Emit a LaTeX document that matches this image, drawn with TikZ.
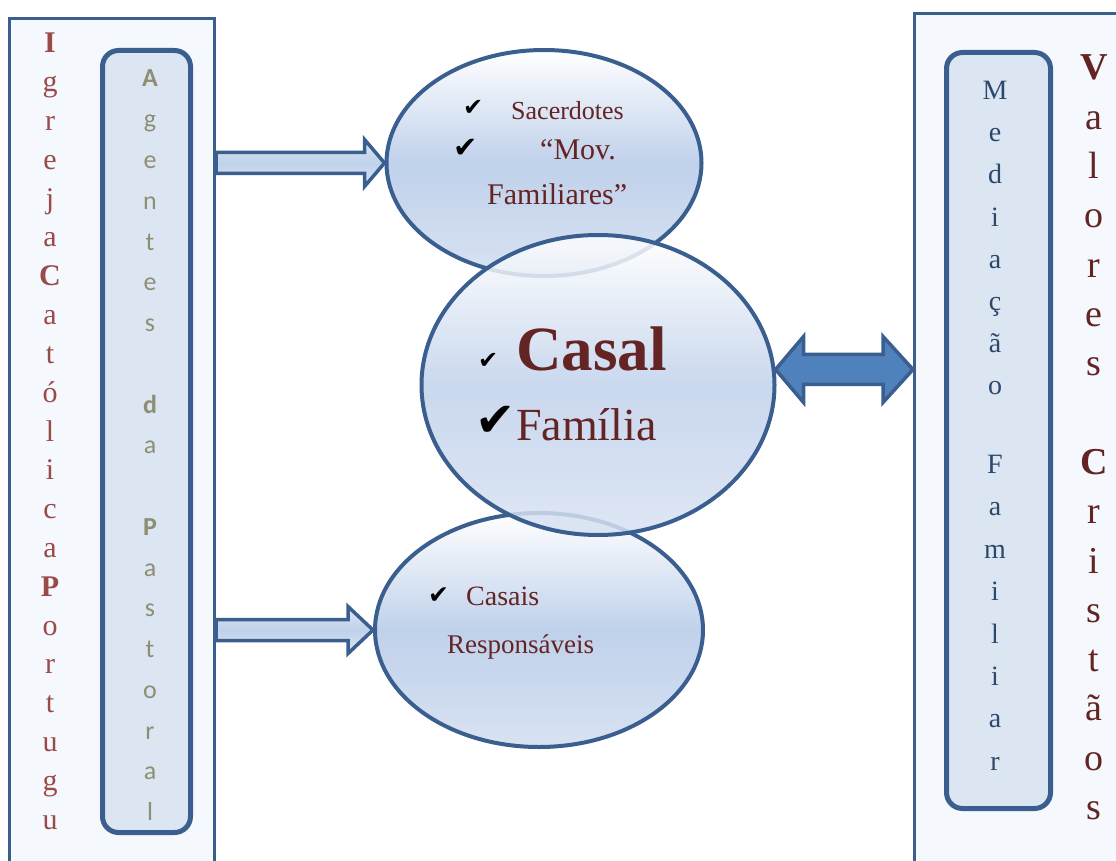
\documentclass[tikz,border=0pt]{standalone}
\usepackage{fontspec}
\setmainfont{Liberation Serif}
\newfontfamily\calibri{Carlito}
\newfontfamily\symb{DejaVu Sans}
\usetikzlibrary{calc,shapes.geometric}

\definecolor{frameblue}{RGB}{58,95,143}
\definecolor{paleblue}{RGB}{245,248,252}
\definecolor{boxblue}{RGB}{220,230,242}
\definecolor{bandblue}{RGB}{192,209,235}
\definecolor{lowblue}{RGB}{216,226,242}
\definecolor{arrowblue}{RGB}{79,129,189}
\definecolor{churchred}{RGB}{155,74,74}
\definecolor{agentgray}{RGB}{142,142,115}
\definecolor{medblue}{RGB}{44,72,108}
\definecolor{darkred}{RGB}{99,36,35}

\newcommand{\fsz}[1]{\fontsize{#1}{#1}\selectfont}

\begin{document}
\begin{tikzpicture}[x=1pt,y=-1pt,
	outerbox/.style={draw=frameblue, line width=3pt, fill=paleblue, anchor=north west, inner sep=0pt},
	innerbox/.style={draw=frameblue, line width=5pt, fill=boxblue, rounded corners=16pt, anchor=north west, inner sep=0pt},
	bubble/.style={ellipse, draw=frameblue, line width=4pt, inner sep=0pt,
		top color=white, bottom color=lowblue, middle color=bandblue},
	bubbletext/.style={text=darkred, anchor=base west, inner sep=0pt},
	tick/.style={anchor=base west, inner sep=0pt},
	letter/.style={anchor=base, inner sep=0pt},
	hollowarrow/.style={draw=frameblue, line width=3.5pt, top color=boxblue, bottom color=boxblue, middle color=bandblue},
	solidarrow/.style={draw=frameblue, line width=3.5pt, fill=arrowblue}
]

	\useasboundingbox (0,0) rectangle (1116,861);

	% ---- side boxes

	\node[outerbox, minimum width=205, minimum height=880] (church) at (8,17) {};
	\node[innerbox, minimum width=88, minimum height=782] (agents) at (100,48) {};

	\node[outerbox, minimum width=240, minimum height=880] (values) at (913,12) {};
	\node[innerbox, minimum width=104, minimum height=756] (mediation) at (944,50) {};

	% ---- bubbles

	\node[bubble, minimum width=315, minimum height=226] (top) at (544,163) {};
	\node[bubble, minimum width=328, minimum height=234] (bot) at (539,630) {};
	\node[bubble, minimum width=353, minimum height=300, fill opacity=0.85] (mid) at (598,385) {};

	% ---- arrows

	\coordinate (t1) at (top.west);
	\coordinate (s1) at (church.east |- t1);
	\draw[hollowarrow] ($(s1)+(0,-10.5)$) -- ($(t1)+(-20,-10.5)$) -- ++(0,-13)
		-- (t1) -- ++(-20,23.5) -- ++(0,-13) -- ($(s1)+(0,10.5)$) -- cycle;

	\coordinate (t2) at (bot.west);
	\coordinate (s2) at (church.east |- t2);
	\draw[hollowarrow] ($(s2)+(0,-10.5)$) -- ($(t2)+(-25,-10.5)$) -- ++(0,-13)
		-- (t2) -- ++(-25,23.5) -- ++(0,-13) -- ($(s2)+(0,10.5)$) -- cycle;

	\coordinate (dl) at (mid.5);
	\coordinate (dr) at (values.west |- dl);
	\draw[solidarrow] (dl) -- ++(28,-33) -- ++(0,18) -- ($(dr)+(-30,-15)$) -- ++(0,-18)
		-- (dr) -- ++(-30,33) -- ++(0,-18) -- ($(dl)+(28,15)$) -- ++(0,18) -- cycle;

	% ---- vertical words

	\foreach \ch [count=\i from 0] in {\textbf{I},g,r,e,j,a,\textbf{C},a,t,ó,l,i,c,a,\textbf{P},o,r,t,u,g,u} {
		\node[letter, text=churchred, font=\fsz{30}] (ig\i) at (50,{53+38.8*\i}) {\ch};
	}

	\foreach \ch [count=\i from 0] in {\textbf{A},g,e,n,t,e,s,{},\textbf{d},a,{},\textbf{P},a,s,t,o,r,a,l} {
		\node[letter, text=agentgray, font=\calibri\fsz{26}] (ag\i) at (150,{87+40.75*\i}) {\ch};
	}

	\foreach \ch/\y [count=\i] in {M/100,e/142,d/184,i/226,a/268,ç/310,ã/352,o/394,
		F/473,a/515,m/558,i/600,l/643,i/685,a/727,r/770} {
		\node[letter, text=medblue, font=\fsz{28}] (me\i) at (995,\y) {\ch};
	}

	\foreach \ch [count=\i from 0] in {\textbf{V},a,l,o,r,e,s,{},\textbf{C},r,i,s,t,ã,o,s} {
		\node[letter, text=darkred, font=\fsz{38}] (va\i) at (1094,{80+49.3*\i}) {\ch};
	}

	% ---- bubble texts

	\node[tick, font=\symb\fsz{24}] (ck1) at (463,116) {✔};
	\node[bubbletext, font=\fsz{26}] (sac) at (511,120) {Sacerdotes};
	\node[tick, font=\symb\fsz{29}] (ck2) at (453,158) {✔};
	\node[bubbletext, font=\fsz{30}] (mov) at (540,160) {“Mov.};
	\node[bubbletext, font=\fsz{30}] (fam) at (487,205) {Familiares”};

	\node[tick, font=\symb\fsz{24}] (ck3) at (478,368) {✔};
	\node[bubbletext, font=\bfseries\fsz{63}] (casal) at (516,370) {Casal};
	\node[tick, font=\symb\fsz{48}] (ck4) at (475,436) {✔};
	\node[bubbletext, font=\fsz{46}] (familia) at (516,440) {Família};

	\node[tick, font=\symb\fsz{25}] (ck5) at (428,603) {✔};
	\node[bubbletext, font=\fsz{28}] (casais) at (466,605) {Casais};
	\node[bubbletext, font=\fsz{27}] (resp) at (447,653) {Responsáveis};

\end{tikzpicture}
\end{document}
